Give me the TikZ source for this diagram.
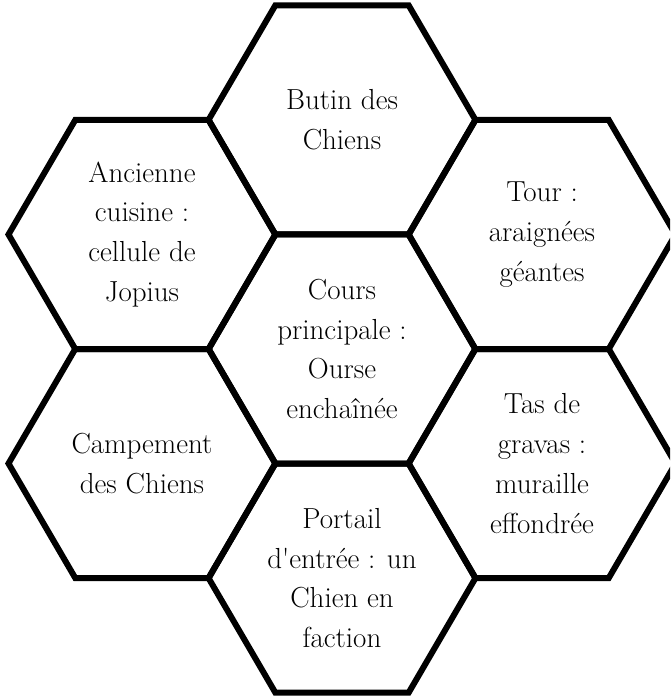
\documentclass[tikz,border=0pt]{standalone}
\usepackage{tikz}

\tikzset{
  hexline/.style={line width=1.2mm, line join=miter},
  hextext/.style={align=center, font=\fontsize{16.5}{22.7}\selectfont}
}

\begin{document}
\begin{tikzpicture}[x=0.2mm,y=-0.2mm]
  \useasboundingbox (0,0) rectangle (670,697);
  \clip (0,0) rectangle (670,697);
  \foreach \x/\y in {342/120,142/234.5,542/234.5,342/349,142/463.5,542/463.5,342/578}
    \draw[hexline] (\x-133.5,\y) -- ++(66.75,-114.5) -- ++(133.5,0) -- ++(66.75,114.5)
      -- ++(-66.75,114.5) -- ++(-133.5,0) -- cycle;

  \node[hextext] (butin) at (342,120) {Butin des\\Chiens};
  \node[hextext] (cuisine) at (142,234.5) {Ancienne\\cuisine :\\cellule de\\Jopius};
  \node[hextext] (tour) at (542,234.5) {Tour :\\araignées\\géantes};
  \node[hextext] (cours) at (342,349) {Cours\\principale :\\Ourse\\enchaînée};
  \node[hextext] (campement) at (142,463.5) {Campement\\des Chiens};
  \node[hextext] (gravas) at (542,463.5) {Tas de\\gravas :\\muraille\\effondrée};
  \node[hextext] (portail) at (342,578) {Portail\\d\textquotesingle entrée : un\\Chien en\\faction};
\end{tikzpicture}
\end{document}
